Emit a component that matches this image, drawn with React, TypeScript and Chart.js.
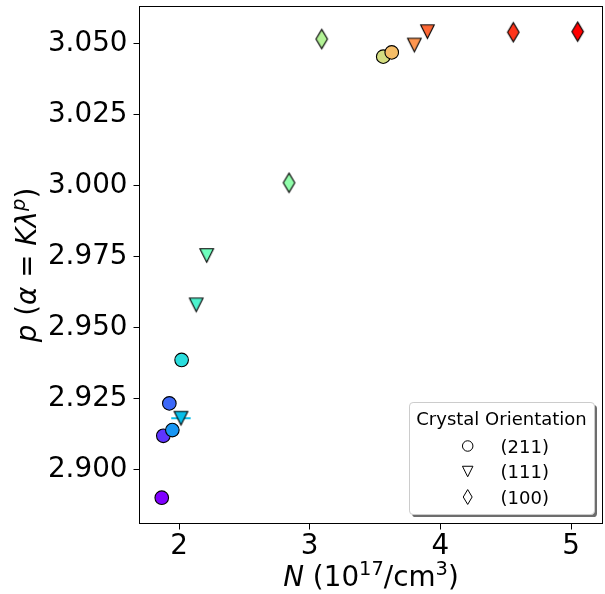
import React, { useEffect, useRef } from 'react';
import { Chart, registerables } from 'chart.js';

Chart.register(...registerables);

// ---- Data ----
const circleN = [1.868, 1.88, 1.926, 1.949, 2.02, 3.563, 3.628];
const circleP = [2.89, 2.9118, 2.9232, 2.9138, 2.9385, 3.0453, 3.0468];
const triangleN = [2.015, 2.132, 2.212, 3.801, 3.901];
const triangleP = [2.918, 2.9579, 2.9753, 3.0494, 3.0541];
const diamondN = [2.842, 3.092, 4.558, 5.051];
const diamondP = [3.0009, 3.0515, 3.0539, 3.0541];
const barN = [2.015];
const barP = [2.918];

const xTicks = [2, 3, 4, 5];
const yTicks = [2.9, 2.925, 2.95, 2.975, 3.0, 3.025, 3.05];
const legendTitle = 'Crystal Orientation';
const legendLabels = ['(211)', '(111)', '(100)'];

const X_MIN = 1.6977;
const X_MAX = 5.241;
const Y_MIN = 2.88092;
const Y_MAX = 3.06296;

const FONT = "'DejaVu Sans', 'Liberation Sans', sans-serif";
const S = 13.6; // marker size (px)
const LW = 1.1;

function rainbow(t: number): string {
  const cl = (v: number) => Math.max(0, Math.min(1, v));
  const r = cl(Math.abs(2 * t - 0.5));
  const g = cl(Math.sin(Math.PI * t));
  const b = cl(Math.cos((Math.PI * t) / 2));
  return `rgb(${Math.round(r * 255)},${Math.round(g * 255)},${Math.round(b * 255)})`;
}

const allN = [...circleN, ...triangleN, ...diamondN].sort((a, b) => a - b);
const colorFor = (n: number) => rainbow(allN.indexOf(n) / (allN.length - 1));

function shapePath(ctx: CanvasRenderingContext2D, shape: string, cx: number, cy: number, s: number) {
  ctx.beginPath();
  if (shape === 'triangle') {
    ctx.moveTo(cx, cy + s / 2);
    ctx.lineTo(cx - s / 2, cy - s / 2);
    ctx.lineTo(cx + s / 2, cy - s / 2);
    ctx.closePath();
  } else if (shape === 'diamond') {
    const hw = 0.4243 * s;
    const hh = 0.7071 * s;
    ctx.moveTo(cx, cy - hh);
    ctx.lineTo(cx + hw, cy);
    ctx.lineTo(cx, cy + hh);
    ctx.lineTo(cx - hw, cy);
    ctx.closePath();
  } else {
    ctx.arc(cx, cy, s / 2, 0, Math.PI * 2);
  }
}

function markerCanvas(shape: string, fill: string | null, s: number, lw: number) {
  const hw = shape === 'diamond' ? 0.4243 * s : s / 2;
  const hh = shape === 'diamond' ? 0.7071 * s : s / 2;
  const w = Math.ceil(2 * hw + lw + 4);
  const h = Math.ceil(2 * hh + lw + 4);
  const c = document.createElement('canvas');
  c.width = w;
  c.height = h;
  const ctx = c.getContext('2d')!;
  shapePath(ctx, shape, w / 2, h / 2, s);
  if (fill) {
    ctx.fillStyle = fill;
    ctx.fill();
  }
  ctx.lineWidth = lw;
  ctx.strokeStyle = '#000';
  ctx.lineJoin = 'miter';
  ctx.stroke();
  return c;
}

type Seg = { t: string; it?: boolean; sup?: boolean };

function drawRich(ctx: CanvasRenderingContext2D, segs: Seg[], size: number, cx: number, baseY: number) {
  const fontOf = (s: Seg) => `${s.it ? 'italic ' : ''}${s.sup ? size * 0.7 : size}px ${FONT}`;
  let total = 0;
  const widths = segs.map((s) => {
    ctx.font = fontOf(s);
    const w = ctx.measureText(s.t).width;
    total += w;
    return w;
  });
  let x = cx - total / 2;
  ctx.textAlign = 'left';
  ctx.textBaseline = 'alphabetic';
  ctx.fillStyle = '#000';
  segs.forEach((s, i) => {
    ctx.font = fontOf(s);
    ctx.fillText(s.t, x, s.sup ? baseY - size * 0.4 : baseY);
    x += widths[i];
  });
}

const decorPlugin = {
  id: 'decor',
  afterDraw(chart: any) {
    const ctx: CanvasRenderingContext2D = chart.ctx;
    const a = chart.chartArea;
    ctx.save();
    // frame
    ctx.strokeStyle = '#000';
    ctx.lineWidth = 1;
    ctx.strokeRect(a.left, a.top, a.right - a.left, a.bottom - a.top);

    // axis titles
    const size = 27.8;
    drawRich(
      ctx,
      [
        { t: 'N', it: true },
        { t: ' (10' },
        { t: '17', sup: true },
        { t: '/cm' },
        { t: '3', sup: true },
        { t: ')' },
      ],
      size,
      (a.left + a.right) / 2,
      586
    );
    ctx.save();
    ctx.translate(36, (a.top + a.bottom) / 2);
    ctx.rotate(-Math.PI / 2);
    drawRich(
      ctx,
      [
        { t: 'p', it: true },
        { t: ' (' },
        { t: 'α', it: true },
        { t: ' = ' },
        { t: 'Kλ', it: true },
        { t: 'p', it: true, sup: true },
        { t: ')' },
      ],
      size,
      0,
      0
    );
    ctx.restore();

    // legend
    const L = 409, T = 402, R = 594, B = 514, rad = 3.6;
    const rr = (x: number, y: number, w: number, h: number) => {
      ctx.beginPath();
      ctx.moveTo(x + rad, y);
      ctx.lineTo(x + w - rad, y);
      ctx.arcTo(x + w, y, x + w, y + rad, rad);
      ctx.lineTo(x + w, y + h - rad);
      ctx.arcTo(x + w, y + h, x + w - rad, y + h, rad);
      ctx.lineTo(x + rad, y + h);
      ctx.arcTo(x, y + h, x, y + h - rad, rad);
      ctx.lineTo(x, y + rad);
      ctx.arcTo(x, y, x + rad, y, rad);
      ctx.closePath();
    };
    rr(L + 3, T + 3, R - L, B - T);
    ctx.fillStyle = 'rgba(60,60,60,0.75)';
    ctx.fill();
    rr(L + 0.5, T + 0.5, R - L, B - T);
    ctx.fillStyle = '#fff';
    ctx.fill();
    ctx.strokeStyle = '#cccccc';
    ctx.lineWidth = 1;
    ctx.stroke();

    ctx.fillStyle = '#000';
    ctx.font = `18px ${FONT}`;
    ctx.textAlign = 'center';
    ctx.textBaseline = 'alphabetic';
    ctx.fillText(legendTitle, (L + R) / 2, 425);
    const shapes = ['circle', 'triangle', 'diamond'];
    const baselines = [452.5, 478, 503.5];
    shapes.forEach((sh, i) => {
      shapePath(ctx, sh, 467.7, baselines[i] - 6.5, 10.5);
      ctx.strokeStyle = '#000';
      ctx.lineWidth = 1;
      ctx.stroke();
      ctx.fillStyle = '#000';
      ctx.font = `18px ${FONT}`;
      ctx.textAlign = 'left';
      ctx.fillText(legendLabels[i], 500.5, baselines[i]);
    });
    ctx.restore();
  },
};

const zeroPad = (s: any) => {
  s.paddingLeft = 0;
  s.paddingRight = 0;
  s.paddingTop = 0;
  s.paddingBottom = 0;
};

export default function App() {
  const ref = useRef<HTMLCanvasElement>(null);
  useEffect(() => {
    if (!ref.current) return;
    const toPts = (xs: number[], ys: number[]) => xs.map((x, i) => ({ x, y: ys[i] }));
    const chart = new Chart(ref.current, {
      type: 'scatter',
      data: {
        datasets: [
          {
            label: '(100)',
            data: toPts(diamondN, diamondP),
            pointStyle: diamondN.map((n) => markerCanvas('diamond', colorFor(n), S, LW)) as any,
            pointRadius: 7,
            order: 0,
          },
          {
            label: '(111)',
            data: toPts(triangleN, triangleP),
            pointStyle: triangleN.map((n) => markerCanvas('triangle', colorFor(n), S, LW)) as any,
            pointRadius: 7,
            order: 1,
          },
          {
            label: '(211)',
            data: toPts(circleN, circleP),
            pointStyle: 'circle',
            pointRadius: S / 2,
            pointBackgroundColor: circleN.map((n) => colorFor(n)),
            pointBorderColor: '#000',
            pointBorderWidth: LW,
            order: 2,
          },
          {
            label: 'bar',
            data: toPts(barN, barP),
            pointStyle: 'line',
            pointRadius: 9.7,
            pointBorderColor: barN.map((n) => colorFor(n)),
            pointBorderWidth: 2,
            order: 3,
          },
        ],
      },
      plugins: [decorPlugin],
      options: {
        animation: false,
        responsive: false,
        devicePixelRatio: 1,
        events: [],
        layout: { autoPadding: false, padding: { top: 6.5, right: 2.5, left: 0, bottom: 0 } },
        plugins: { legend: { display: false }, tooltip: { enabled: false } },
        scales: {
          x: {
            type: 'linear',
            min: X_MIN,
            max: X_MAX,
            afterBuildTicks: (s: any) => {
              s.ticks = xTicks.map((v) => ({ value: v }));
            },
            afterFit: (s: any) => {
              s.height = 70.5;
              zeroPad(s);
            },
            border: { display: false },
            grid: { display: true, drawOnChartArea: false, drawTicks: true, tickLength: 6, color: '#000', lineWidth: 1 },
            ticks: {
              color: '#000',
              font: { family: FONT, size: 27.8 },
              padding: 1,
              maxRotation: 0,
              callback: (v: any) => String(v),
            },
          },
          y: {
            type: 'linear',
            min: Y_MIN,
            max: Y_MAX,
            afterBuildTicks: (s: any) => {
              s.ticks = yTicks.map((v) => ({ value: v }));
            },
            afterFit: (s: any) => {
              s.width = 139.5;
              zeroPad(s);
            },
            border: { display: false },
            grid: { display: true, drawOnChartArea: false, drawTicks: true, tickLength: 6, color: '#000', lineWidth: 1 },
            ticks: {
              color: '#000',
              font: { family: FONT, size: 27.8 },
              padding: 6,
              callback: (v: any) => Number(v).toFixed(3),
            },
          },
        },
      },
    });
    return () => chart.destroy();
  }, []);
  return (
    <canvas
      ref={ref}
      width={605}
      height={594}
      style={{ position: 'fixed', left: 0, top: 0, width: 605, height: 594, display: 'block' }}
    />
  );
}
